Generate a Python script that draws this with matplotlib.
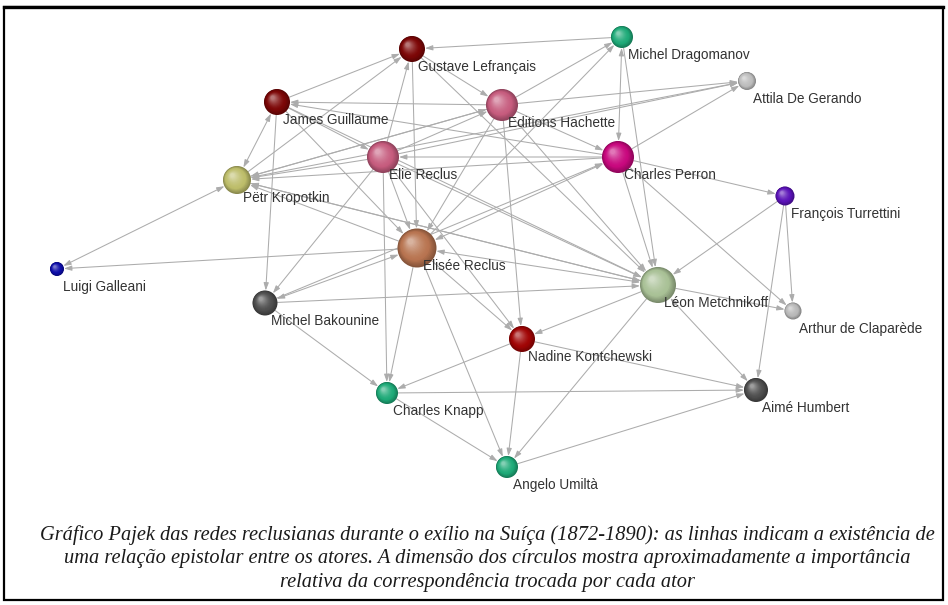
import numpy as np
import matplotlib
matplotlib.use("Agg")
import matplotlib.pyplot as plt
from matplotlib.patches import Circle, FancyArrowPatch, Rectangle, ArrowStyle
from matplotlib.colors import to_rgb

# ---------------- data ----------------
node_ids = ["GL", "MD", "AD", "JG", "EH", "ER", "CP", "PK", "FT", "LG",
            "EL", "LM", "MB", "AC", "NK", "CK", "AH", "AU"]
node_names = ["Gustave Lefrançais", "Michel Dragomanov", "Attila De Gerando",
              "James Guillaume", "Editions Hachette", "Elie Reclus",
              "Charles Perron", "Pëtr Kropotkin", "François Turrettini",
              "Luigi Galleani", "Elisée Reclus", "Léon Metchnikoff",
              "Michel Bakounine", "Arthur de Claparède", "Nadine Kontchewski",
              "Charles Knapp", "Aimé Humbert", "Angelo Umiltà"]
node_x = [412, 622, 747, 277, 502, 383, 618, 237, 785, 57,
          417, 658, 265, 793, 522, 387, 756, 507]
node_y = [49, 37, 81, 102, 105, 157, 157, 180, 196, 269,
          248, 285, 303, 311, 339, 393, 390, 467]
# importance (drawn as sphere radius)
node_size = [13, 11, 9, 13, 16, 16, 16, 14, 9.5, 7,
             19.5, 18, 12.5, 8.5, 13, 11, 12, 11]

edges = [("MD", "GL"), ("JG", "GL"), ("PK", "GL"), ("ER", "GL"), ("GL", "EL"),
         ("GL", "EH"), ("GL", "LM"), ("EH", "MD"), ("EL", "MD"), ("MD", "LM"),
         ("EH", "AD"), ("PK", "AD"), ("CP", "AD"), ("ER", "AD"), ("EH", "JG"),
         ("CP", "JG"), ("JG", "ER"), ("JG", "MB"), ("JG", "EL"), ("ER", "PK"),
         ("EH", "PK"), ("CP", "PK"), ("EL", "PK"), ("LM", "PK"), ("ER", "EH"),
         ("CP", "ER"), ("ER", "MB"), ("ER", "CK"), ("ER", "LM"), ("ER", "NK"),
         ("EH", "CP"), ("EH", "EL"), ("EH", "LM"), ("EH", "NK"), ("EL", "LG"),
         ("EL", "CK"), ("EL", "NK"), ("EL", "AU"), ("LM", "AC"), ("LM", "NK"),
         ("LM", "AU"), ("FT", "LM"), ("CP", "LM"), ("MB", "LM"), ("NK", "CK"),
         ("NK", "AU"), ("NK", "AH"), ("MB", "CK"), ("CK", "AU"), ("CK", "AH"),
         ("AU", "AH"), ("CP", "FT"), ("FT", "AC"), ("FT", "AH"), ("CP", "AC"),
         ("JG", "LM"), ("ER", "EL"), ("PK", "EH"), ("PK", "LM"), ("MB", "CP")]
bi_edges = [("CP", "MD"), ("JG", "PK"), ("LG", "PK"), ("EL", "MB"),
            ("LM", "EL"), ("CP", "EL"), ("LM", "AH")]

caption_lines = [
    "Gráfico Pajek das redes reclusianas durante o exílio na Suíça (1872-1890): as linhas indicam a existência de",
    "uma relação epistolar entre os atores. A dimensão dos círculos mostra aproximadamente a importância",
    "relativa da correspondência trocada por cada ator",
]

# ---------------- styles ----------------
node_colors = {"GL": "#7c0606", "MD": "#1eaa78", "AD": "#bdbdbd", "JG": "#7c0606",
               "EH": "#c65c7e", "ER": "#c65c7e", "CP": "#c8087e", "PK": "#bdbd6a",
               "FT": "#5a12b8", "LG": "#0c0ca8", "EL": "#b87450", "LM": "#a9c196",
               "MB": "#4e4e4e", "AC": "#b8b8b8", "NK": "#a00404", "CK": "#1eaa78",
               "AH": "#4e4e4e", "AU": "#1eaa78"}

W, H = 948, 605
fig = plt.figure(figsize=(W / 100, H / 100), dpi=100)
ax = fig.add_axes([0, 0, 1, 1])
ax.set_xlim(0, W)
ax.set_ylim(H, 0)
ax.axis("off")

pos = {k: (x, y) for k, x, y in zip(node_ids, node_x, node_y)}
rad = dict(zip(node_ids, node_size))

edge_col = "#acacac"


def draw_edge(a, b, both=False):
    (x1, y1), (x2, y2) = pos[a], pos[b]
    d = np.hypot(x2 - x1, y2 - y1)
    ux, uy = (x2 - x1) / d, (y2 - y1) / d
    s = (x1 + ux * rad[a], y1 + uy * rad[a])
    e = (x2 - ux * rad[b], y2 - uy * rad[b])
    style = ArrowStyle("<|-|>" if both else "-|>", head_length=0.45, head_width=0.15)
    p = FancyArrowPatch(s, e, arrowstyle=style, mutation_scale=10,
                        shrinkA=0, shrinkB=0, color=edge_col, lw=0.75, zorder=1)
    ax.add_patch(p)


for a, b in edges:
    draw_edge(a, b)
for a, b in bi_edges:
    draw_edge(a, b, both=True)


def sphere(x, y, r, color):
    base = np.array(to_rgb(color))
    dark = base * 0.72
    light = base + (1 - base) * 0.45
    n = 18
    for i in range(n):
        t = i / (n - 1)
        rr = r * (1 - 0.85 * t)
        cx = x - 0.33 * r * t
        cy = y - 0.33 * r * t
        if t < 0.3:
            c = dark + (base - dark) * (t / 0.3)
        else:
            c = base + (light - base) * ((t - 0.3) / 0.7) ** 1.5
        ax.add_patch(Circle((cx, cy), rr, facecolor=np.clip(c, 0, 1),
                            edgecolor="none", zorder=3))


for k, name, x, y, r in zip(node_ids, node_names, node_x, node_y, node_size):
    sphere(x, y, r, node_colors[k])
    ax.text(x + 6, y + 18, name, fontsize=9.8, family="Liberation Sans",
            color="#333333", ha="left", va="center", zorder=4)

# caption, fitted to width
fig.canvas.draw()
r = fig.canvas.get_renderer()
t0 = ax.text(487, 535, caption_lines[0], fontsize=14, family="Liberation Serif",
             style="italic", ha="center", va="center", color="#1a1a1a")
w = t0.get_window_extent(r).width
fs = 14 * 898 / w
t0.set_fontsize(fs)
for yy, line in zip([559, 582], caption_lines[1:]):
    ax.text(487, yy, line, fontsize=fs, family="Liberation Serif", style="italic",
            ha="center", va="center", color="#1a1a1a")

# frame
ax.add_patch(Rectangle((4, 7), 939, 593, fill=False, edgecolor="black", lw=1.6, zorder=5))
ax.plot([4, 943], [7, 7], color="black", lw=2.4, zorder=5)

fig.savefig("out.png", dpi=100)
